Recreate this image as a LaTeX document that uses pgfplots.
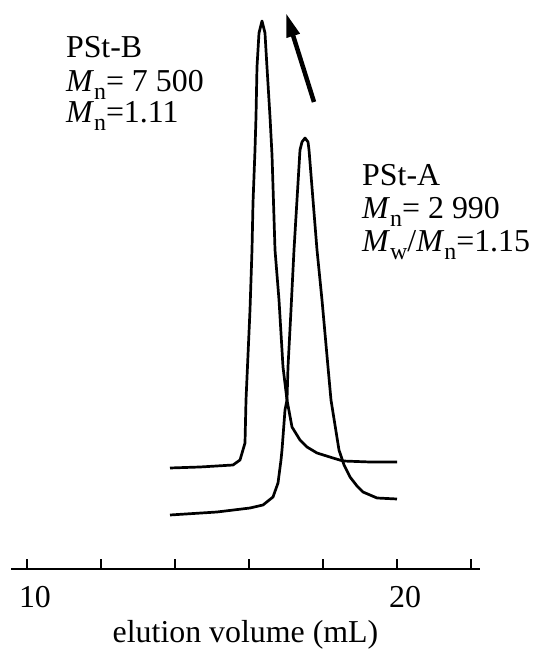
\documentclass[border=0pt]{standalone}
\usepackage{fontspec}
\setmainfont{Liberation Serif}
\usepackage{pgfplots}
\pgfplotsset{compat=1.18}
\usetikzlibrary{arrows.meta}
\newcommand\sub[1]{\raisebox{-0.24em}{\fontsize{24}{24}\selectfont #1}}
\begin{document}
\begin{tikzpicture}
\useasboundingbox (0,0) rectangle (542bp,652bp);
\begin{axis}[
  at={(11bp,83bp)}, anchor=south west,
  scale only axis, width=469bp, height=569bp,
  xmin=9.568, xmax=22.243, ymin=0, ymax=569,
  axis x line=bottom, axis y line=none,
  x axis line style={-, line width=1.6bp},
  xtick={10,12,...,22}, xticklabels={10,,,,,20,},
  xtick align=inside, major tick length=10bp,
  every tick/.style={black, line width=1.6bp},
  xticklabel style={font=\fontsize{32}{32}\selectfont, yshift=-14bp, xshift=8bp},
  xlabel={elution volume (mL)},
  xlabel style={font=\fontsize{32}{32}\selectfont, at={(axis description cs:0.5,0)}, anchor=base, yshift=-73bp},
  clip=false,
]
% PSt-B
\addplot[line width=2.7bp, line join=round] coordinates {
(13.865,101) (14.676,102) (15.568,104) (15.757,109) (15.892,126) (15.919,169)
(16.027,259) (16.081,319) (16.108,366) (16.162,419) (16.189,452) (16.216,502)
(16.270,536) (16.351,548) (16.432,536) (16.486,502) (16.568,452) (16.622,414)
(16.703,319) (16.811,269) (16.919,202) (17.027,169) (17.162,142) (17.378,129)
(17.568,122) (17.838,116) (18.270,111) (18.541,108) (19.270,107) (20.0,107)
};
% PSt-A
\addplot[line width=2.7bp, line join=round] coordinates {
(13.865,54) (15.135,57) (16.027,61) (16.378,64) (16.649,72) (16.784,86)
(16.865,109) (16.892,119) (16.973,159) (17.027,169) (17.054,202) (17.135,259)
(17.216,319) (17.297,369) (17.378,419) (17.432,427) (17.514,431) (17.595,427)
(17.622,419) (17.730,369) (17.838,319) (17.973,269) (18.135,202) (18.216,169)
(18.324,144) (18.432,119) (18.568,104) (18.730,92) (18.919,83) (19.081,77)
(19.459,71) (20.0,70)
};
\draw[line width=4.5bp, -{Triangle[length=24bp,width=13bp]}] (axis cs:17.757,467) -- (axis cs:17.0,556);
\begin{scope}[every node/.style={anchor=base west, inner sep=0, font=\fontsize{32}{32}\selectfont}]
\node at (axis cs:11.05,511) {PSt-B};
\node at (axis cs:11.05,477) {\textit{M}\sub{n}= 7 500};
\node at (axis cs:11.05,446) {\textit{M}\sub{n}=1.11};
\node at (axis cs:19.054,383) {PSt-A};
\node at (axis cs:19.054,350) {\textit{M}\sub{n}= 2 990};
\node at (axis cs:19.054,317) {\textit{M}\sub{w}/\textit{M}\sub{n}=1.15};
\end{scope}
\end{axis}
\end{tikzpicture}
\end{document}
